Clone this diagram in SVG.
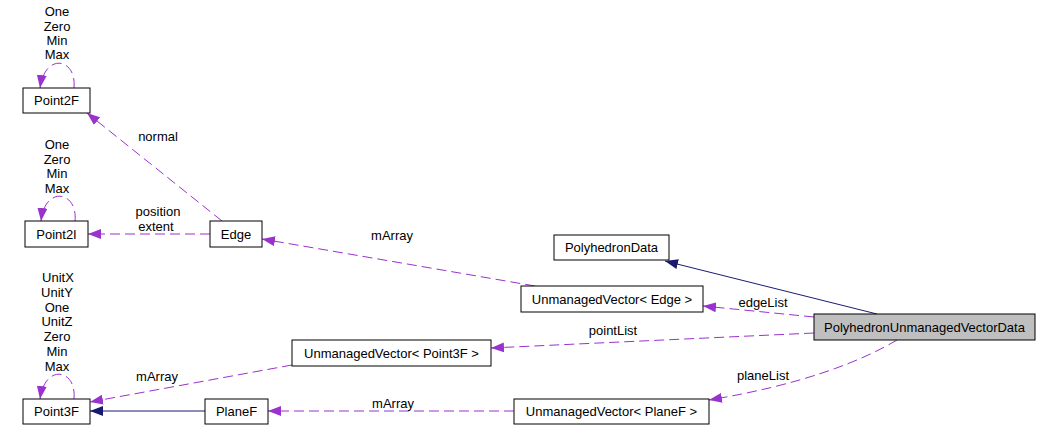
<svg xmlns="http://www.w3.org/2000/svg" width="1041" height="431" viewBox="0 0 1041 431">
<style>
text{font-family:"Liberation Sans",Arial,sans-serif;font-size:13px;fill:#000;text-anchor:middle}
.box{fill:#fff;stroke:#000;stroke-width:1}
.dim{fill:#bfbfbf;stroke:#000;stroke-width:1}
.dash{fill:none;stroke:#9a32cd;stroke-width:1;stroke-dasharray:10,5;marker-end:url(#pa)}
.inh{fill:none;stroke:#191970;stroke-width:1;marker-end:url(#na)}
</style>
<defs>
<marker id="pa" markerUnits="userSpaceOnUse" markerWidth="13" markerHeight="10" viewBox="0 0 13 10" refX="13" refY="5" orient="auto"><path d="M0,0 L13,5 L0,10 z" fill="#9a32cd"/></marker>
<marker id="na" markerUnits="userSpaceOnUse" markerWidth="13" markerHeight="10" viewBox="0 0 13 10" refX="13" refY="5" orient="auto"><path d="M0,0 L13,5 L0,10 z" fill="#191970"/></marker>
</defs>
<g id="connectors">
<path class="dash" d="M74,88 C77,58 45,52 40,88"/>
<path class="dash" d="M75,221 C78,191 45,185 41,221"/>
<path class="dash" d="M74,399 C77,369 45,363 40,399"/>
<path class="dash" d="M222,221 L87,113"/>
<path class="dash" d="M210,234 L88,234"/>
<path class="dash" d="M535,286 L262,239"/>
<path class="dash" d="M292,365 L90,402"/>
<path class="dash" d="M514,411 L268,411"/>
<path class="inh" d="M205,411 L90,411"/>
<path class="inh" d="M877,314 L665,261"/>
<path class="dash" d="M814,317 L703,306"/>
<path class="dash" d="M814,333 L491,348"/>
<path class="dash" d="M897,340 C860,362 800,385 709,400"/>
<text x="57" y="16">One</text><text x="57" y="31">Zero</text><text x="57" y="45">Min</text><text x="57" y="59">Max</text>
<text x="57" y="149">One</text><text x="57" y="164">Zero</text><text x="57" y="178">Min</text><text x="57" y="193">Max</text>
<text x="58" y="282">UnitX</text><text x="57" y="297">UnitY</text><text x="57" y="312">One</text><text x="57" y="326">UnitZ</text><text x="57" y="341">Zero</text><text x="57" y="356">Min</text><text x="57" y="371">Max</text>
<text x="158" y="141">normal</text>
<text x="158" y="216">position</text><text x="156" y="231">extent</text>
<text x="392" y="240">mArray</text>
<text x="157" y="381">mArray</text>
<text x="393" y="408">mArray</text>
<text x="763" y="307">edgeList</text>
<text x="613" y="335">pointList</text>
<text x="763" y="380">planeList</text>
</g>
<g id="Point2F"><rect class="box" x="23" y="88" width="67" height="25"/><text x="56.5" y="105">Point2F</text></g>
<g id="Point2I"><rect class="box" x="25" y="221" width="63" height="26"/><text x="56.5" y="238.5">Point2I</text></g>
<g id="Edge"><rect class="box" x="210" y="221" width="52" height="26"/><text x="236" y="238.5">Edge</text></g>
<g id="Point3F"><rect class="box" x="23" y="399" width="67" height="25"/><text x="56.5" y="416">Point3F</text></g>
<g id="PlaneF"><rect class="box" x="205" y="399" width="63" height="25"/><text x="236.5" y="416">PlaneF</text></g>
<g id="UnmanagedVectorPoint3F"><rect class="box" x="292" y="340" width="199" height="26"/><text x="391.5" y="357.5">UnmanagedVector&lt; Point3F &gt;</text></g>
<g id="UnmanagedVectorPlaneF"><rect class="box" x="514" y="399" width="195" height="25"/><text x="611.5" y="416">UnmanagedVector&lt; PlaneF &gt;</text></g>
<g id="PolyhedronData"><rect class="box" x="554" y="235" width="115" height="25"/><text x="611.5" y="252">PolyhedronData</text></g>
<g id="UnmanagedVectorEdge"><rect class="box" x="521" y="286" width="182" height="26"/><text x="612" y="303.5">UnmanagedVector&lt; Edge &gt;</text></g>
<g id="PolyhedronUnmanagedVectorData"><rect class="dim" x="814" y="314" width="221" height="26"/><text x="924.5" y="331.5">PolyhedronUnmanagedVectorData</text></g>
</svg>
